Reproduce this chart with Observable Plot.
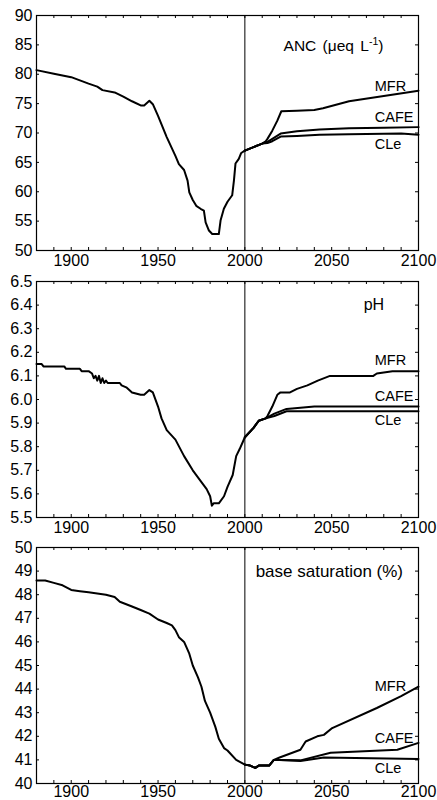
<!DOCTYPE html>
<html>
<head>
<meta charset="utf-8">
<script src="https://cdn.jsdelivr.net/npm/d3@7"></script>
<script src="https://cdn.jsdelivr.net/npm/@observablehq/plot@0.6"></script>
<style>
  html, body { margin: 0; padding: 0; background: white; overflow: hidden; }
  #chart { position: relative; width: 437px; height: 800px; }
  #chart svg { display: block; position: absolute; left: 0; }
</style>
</head>
<body>
<div id="chart"></div>
<script>
// ---------- tick labels ----------
const xTickLabels = [1900, 1950, 2000, 2050, 2100];
const xMinorTicks = [1890, 1900, 1910, 1920, 1930, 1940, 1950, 1960, 1970, 1980, 1990, 2000, 2010, 2020, 2030, 2040, 2050, 2060, 2070, 2080, 2090];
const ancTicks = [50, 55, 60, 65, 70, 75, 80, 85, 90];
const phTicks = [5.5, 5.6, 5.7, 5.8, 5.9, 6.0, 6.1, 6.2, 6.3, 6.4, 6.5];
const bsTicks = [40, 41, 42, 43, 44, 45, 46, 47, 48, 49, 50];
const scenarios = ["MFR", "CAFE", "CLe"];

// ---------- ANC (µeq L-1) ----------
const ancHistYear = [1880, 1890, 1900, 1910, 1915, 1918, 1925, 1930, 1935, 1940, 1942, 1945, 1947, 1950, 1955, 1960, 1962, 1965, 1967, 1968, 1970, 1972, 1974.5, 1976.4, 1977.4, 1979.3, 1981.2, 1985, 1986, 1987.9, 1990, 1992.7, 1993.7, 1994.6, 1996.5, 1997.9, 2000];
const ancHist     = [80.7, 80.1, 79.5, 78.4, 77.9, 77.3, 76.9, 76.2, 75.4, 74.7, 74.7, 75.5, 74.9, 72.9, 69.3, 66.1, 64.7, 63.7, 61.9, 59.9, 58.6, 57.6, 57.1, 56.8, 54.8, 53.4, 52.8, 52.8, 55.1, 57.1, 58.3, 59.4, 61.9, 64.8, 65.6, 66.6, 67.0];
const ancMFRYear  = [2000, 2005, 2010, 2012, 2013, 2015.8, 2018.7, 2021, 2030, 2040, 2045, 2060, 2080, 2100];
const ancMFR      = [67.0, 67.6, 68.2, 68.6, 69.0, 70.4, 72.1, 73.7, 73.8, 73.9, 74.2, 75.4, 76.3, 77.2];
const ancCAFEYear = [2000, 2005, 2010, 2013, 2015.8, 2020.6, 2030, 2043, 2060, 2080, 2100];
const ancCAFE     = [67.0, 67.6, 68.2, 68.5, 69.0, 69.9, 70.3, 70.6, 70.8, 70.9, 71.0];
const ancCLeYear  = [2000, 2005, 2010, 2013, 2015.8, 2020.6, 2030, 2043, 2060, 2090, 2100];
const ancCLe      = [67.0, 67.6, 68.2, 68.3, 68.6, 69.4, 69.5, 69.7, 69.8, 69.9, 69.7];

// ---------- pH ----------
const phHistYear = [1880, 1883, 1884, 1896, 1897, 1905, 1906, 1910, 1912, 1913, 1914, 1915, 1916, 1917, 1918, 1919, 1920, 1921, 1928, 1929, 1932, 1935, 1940, 1942, 1945, 1947, 1950, 1952, 1955, 1960, 1965, 1970, 1975, 1978, 1980, 1981, 1982, 1985, 1988, 1990, 1993, 1995, 1997, 2000];
const phHist     = [6.15, 6.15, 6.14, 6.14, 6.13, 6.13, 6.12, 6.12, 6.11, 6.09, 6.10, 6.08, 6.10, 6.07, 6.09, 6.07, 6.08, 6.07, 6.07, 6.06, 6.05, 6.03, 6.02, 6.02, 6.04, 6.03, 5.97, 5.92, 5.87, 5.83, 5.76, 5.70, 5.65, 5.62, 5.59, 5.55, 5.56, 5.56, 5.59, 5.63, 5.68, 5.76, 5.79, 5.84];
const phMFRYear  = [2000, 2005, 2008, 2012, 2013, 2015.8, 2018.7, 2020.5, 2026, 2030, 2036, 2042, 2049, 2074, 2076, 2085, 2100];
const phMFR      = [5.84, 5.88, 5.91, 5.92, 5.93, 5.97, 6.02, 6.03, 6.03, 6.045, 6.06, 6.08, 6.10, 6.10, 6.11, 6.12, 6.12];
const phCAFEYear = [2000, 2005, 2008, 2012, 2017, 2024, 2040, 2100];
const phCAFE     = [5.84, 5.88, 5.91, 5.92, 5.94, 5.96, 5.97, 5.97];
const phCLeYear  = [2000, 2005, 2008, 2012, 2017, 2024, 2100];
const phCLe      = [5.84, 5.88, 5.91, 5.92, 5.93, 5.95, 5.95];

// ---------- base saturation (%) ----------
const bsHistYear = [1880, 1885, 1890, 1895, 1900, 1905, 1910, 1920, 1925, 1928, 1935, 1940, 1945, 1950, 1955, 1958, 1960, 1962, 1965, 1968, 1970, 1973, 1975, 1977, 1980, 1983, 1985, 1988, 1990, 1995, 2000];
const bsHist     = [48.6, 48.6, 48.5, 48.4, 48.2, 48.15, 48.1, 48.0, 47.9, 47.7, 47.5, 47.35, 47.2, 46.95, 46.8, 46.7, 46.5, 46.2, 46.0, 45.5, 45.0, 44.5, 44.1, 43.5, 43.0, 42.4, 41.9, 41.5, 41.4, 41.0, 40.8];
const bsMFRYear  = [2000, 2003, 2006, 2008, 2014, 2016.7, 2020, 2032, 2035, 2041.7, 2045.5, 2050.3, 2076, 2090, 2100];
const bsMFR      = [40.8, 40.76, 40.66, 40.76, 40.76, 41.0, 41.1, 41.43, 41.78, 42.0, 42.06, 42.35, 43.2, 43.7, 44.1];
const bsCAFEYear = [2000, 2003, 2006, 2008, 2014, 2016.7, 2020, 2032, 2049.4, 2087.8, 2100];
const bsCAFE     = [40.8, 40.76, 40.66, 40.76, 40.76, 41.0, 41.0, 40.98, 41.3, 41.43, 41.72];
const bsCLeYear  = [2000, 2003, 2006, 2008, 2014, 2016.7, 2020, 2032, 2045.5, 2100];
const bsCLe      = [40.8, 40.76, 40.66, 40.76, 40.76, 41.0, 41.0, 40.95, 41.1, 41.04];

const FONT = "'Liberation Sans', Arial, Helvetica, sans-serif";
const zip = (xs, ys) => xs.map((x, i) => ({year: x, value: ys[i]}));

function panel({top, height, marginTop, marginBottom, tickPadding, yDomain, yTicks, yFormat, title, titleSize, titlePos, series, labelPos}) {
  const width = 437, marginLeft = 36, marginRight = 19;
  const fh = height - marginTop - marginBottom;
  const fw = width - marginLeft - marginRight;
  const tick = 3;
  const lineMarks = series.map(s => Plot.line(zip(s.x, s.y), {x: "year", y: "value", stroke: "black", strokeWidth: 2}));
  const labels = scenarios.map((name, i) => ({name, year: labelPos.x, value: labelPos.y[i]}));
  const svg = Plot.plot({
    width, height, marginLeft, marginRight, marginTop, marginBottom,
    style: {fontFamily: FONT, background: "transparent", color: "black"},
    x: {domain: [1880, 2100]},
    y: {domain: yDomain},
    marks: [
      Plot.ruleX(xMinorTicks, {stroke: "black", strokeWidth: 1, insetTop: fh - tick}),
      Plot.ruleX(xMinorTicks, {stroke: "black", strokeWidth: 1, insetBottom: fh - tick}),
      Plot.ruleY(yTicks, {stroke: "black", strokeWidth: 1, insetRight: fw - tick}),
      Plot.ruleY(yTicks, {stroke: "black", strokeWidth: 1, insetLeft: fw - tick}),
      Plot.ruleX([2000], {stroke: "black", strokeWidth: 1}),
      ...lineMarks,
      Plot.frame({stroke: "black", strokeWidth: 1.2}),
      Plot.axisX({ticks: xTickLabels, tickSize: 0, tickPadding, tickFormat: d => String(d), fontSize: 16, fontFamily: FONT, label: null}),
      Plot.axisY({ticks: yTicks, tickSize: 0, tickPadding: 4, tickFormat: yFormat, fontSize: 16, fontFamily: FONT, label: null}),
      Plot.text([title], {x: titlePos.x, y: titlePos.y, text: d => d, textAnchor: "start", lineAnchor: "bottom", fontSize: titleSize, fontFamily: FONT, fill: "black"}),
      Plot.text(labels, {x: "year", y: "value", text: "name", textAnchor: "start", lineAnchor: "bottom", fontSize: 14.5, fontFamily: FONT, fill: "black"})
    ]
  });
  svg.style.top = top + "px";
  return svg;
}

const chart = document.getElementById("chart");

const p1 = panel({
  top: 0, height: 270, marginTop: 15, marginBottom: 20, tickPadding: 4,
  yDomain: [50, 90], yTicks: ancTicks, yFormat: d => String(d),
  title: "ANC (μeq L-1)", titleSize: 15.5, titlePos: {x: 2022.3, y: 83.9},
  series: [{x: ancHistYear, y: ancHist}, {x: ancMFRYear, y: ancMFR}, {x: ancCAFEYear, y: ancCAFE}, {x: ancCLeYear, y: ancCLe}],
  labelPos: {x: 2074.8, y: [77.2, 71.8, 67.2]}
});
// superscript for the unit
p1.querySelectorAll("text").forEach(t => {
  if (t.textContent === "ANC (μeq L-1)") {
    t.textContent = "ANC (μeq L";
    const ns = "http://www.w3.org/2000/svg";
    const sup = document.createElementNS(ns, "tspan");
    sup.setAttribute("dy", "-6");
    sup.setAttribute("font-size", "10.5");
    sup.textContent = "-1";
    const close = document.createElementNS(ns, "tspan");
    close.setAttribute("dy", "6");
    close.textContent = ")";
    t.appendChild(sup);
    t.appendChild(close);
    t.setAttribute("word-spacing", "2");
  }
});
chart.appendChild(p1);

chart.appendChild(panel({
  top: 266, height: 271, marginTop: 15, marginBottom: 20, tickPadding: 4,
  yDomain: [5.5, 6.5], yTicks: phTicks, yFormat: d => d.toFixed(1),
  title: "pH", titleSize: 16, titlePos: {x: 2068.4, y: 6.38},
  series: [{x: phHistYear, y: phHist}, {x: phMFRYear, y: phMFR}, {x: phCAFEYear, y: phCAFE}, {x: phCLeYear, y: phCLe}],
  labelPos: {x: 2074.8, y: [6.147, 5.995, 5.893]}
}));

chart.appendChild(panel({
  top: 533, height: 267, marginTop: 14, marginBottom: 17, tickPadding: 2,
  yDomain: [40, 50], yTicks: bsTicks, yFormat: d => String(d),
  title: "base saturation (%)", titleSize: 17, titlePos: {x: 2006.2, y: 48.75},
  series: [{x: bsHistYear, y: bsHist}, {x: bsMFRYear, y: bsMFR}, {x: bsCAFEYear, y: bsCAFE}, {x: bsCLeYear, y: bsCLe}],
  labelPos: {x: 2074.8, y: [43.9, 41.72, 40.45]}
}));
</script>
</body>
</html>
